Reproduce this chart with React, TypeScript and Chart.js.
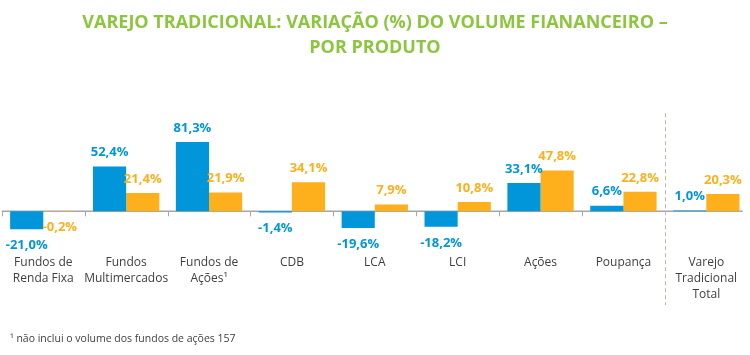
import React, { useEffect, useRef } from "react";
import { Chart, registerables } from "chart.js";

Chart.register(...registerables);

const categories: string[][] = [
  ["Fundos de", "Renda Fixa"],
  ["Fundos", "Multimercados"],
  ["Fundos de", "Ações¹"],
  ["CDB"],
  ["LCA"],
  ["LCI"],
  ["Ações"],
  ["Poupança"],
  ["Varejo", "Tradicional", "Total"],
];
const seriesBlue: number[] = [-21.0, 52.4, 81.3, -1.4, -19.6, -18.2, 33.1, 6.6, 1.0];
const seriesOrange: number[] = [-0.2, 21.4, 21.9, 34.1, 7.9, 10.8, 47.8, 22.8, 20.3];
const titleLines: string[] = [
  "VAREJO TRADICIONAL: VARIAÇÃO (%) DO VOLUME FIANANCEIRO –",
  "POR PRODUTO",
];
const footnote = "¹ não inclui o volume dos fundos de ações 157";

const BLUE = "#0096D9";
const ORANGE = "#FDB01B";
const FONT = "'Open Sans', sans-serif";

const fmt = (v: number) => v.toFixed(1).replace(".", ",") + "%";

const overlay = {
  id: "overlay",
  beforeDatasetsDraw(chart: any) {
    const ctx = chart.ctx;
    const xs = chart.scales.x;
    const ys = chart.scales.y;
    const y0 = ys.getPixelForValue(0);
    const step = xs.getPixelForValue(1) - xs.getPixelForValue(0);
    ctx.save();
    ctx.strokeStyle = "#A6A6A6";
    ctx.lineWidth = 1.5;
    ctx.beginPath();
    ctx.moveTo(chart.chartArea.left, y0);
    ctx.lineTo(chart.chartArea.right - 5, y0);
    ctx.stroke();
    ctx.lineWidth = 1;
    for (let i = 0; i < categories.length - 1; i++) {
      const bx = Math.round(xs.getPixelForValue(i) - step / 2) + 0.5;
      ctx.beginPath();
      ctx.moveTo(bx, y0);
      ctx.lineTo(bx, y0 + 5);
      ctx.stroke();
    }
    // dashed separator before last category
    const sx = Math.round(xs.getPixelForValue(categories.length - 1) - step / 2) + 0.5;
    ctx.strokeStyle = "#BDBBA3";
    ctx.setLineDash([4, 3]);
    ctx.beginPath();
    ctx.moveTo(sx, ys.getPixelForValue(115));
    ctx.lineTo(sx, ys.getPixelForValue(-110));
    ctx.stroke();
    ctx.restore();
  },
  afterDatasetsDraw(chart: any) {
    const ctx = chart.ctx;
    ctx.save();
    ctx.font = `bold 13px ${FONT}`;
    ctx.textAlign = "center";
    ctx.textBaseline = "middle";
    chart.data.datasets.forEach((ds: any, di: number) => {
      const meta = chart.getDatasetMeta(di);
      ctx.fillStyle = ds.backgroundColor;
      meta.data.forEach((el: any, j: number) => {
        const v = ds.data[j];
        const y = v >= 0 ? el.y - 14 : el.y + 16;
        ctx.fillText(fmt(v), el.x, y);
      });
    });
    ctx.restore();
  },
};

export default function App() {
  const ref = useRef<HTMLCanvasElement>(null);
  useEffect(() => {
    if (!ref.current) return;
    const chart = new Chart(ref.current, {
      type: "bar",
      data: {
        labels: categories,
        datasets: [
          { data: seriesBlue, backgroundColor: BLUE, borderWidth: 0 },
          { data: seriesOrange, backgroundColor: ORANGE, borderWidth: 0 },
        ],
      },
      options: {
        responsive: false,
        animation: false,
        devicePixelRatio: 1,
        layout: { padding: { left: 0, right: 0, top: 0, bottom: 39 } },
        datasets: { bar: { categoryPercentage: 0.8, barPercentage: 1 } },
        scales: {
          x: {
            grid: { display: false, drawTicks: false },
            border: { display: false },
            ticks: {
              padding: 13,
              color: "#404040",
              font: { family: FONT, size: 12, lineHeight: "16px" as any },
              maxRotation: 0,
              autoSkip: false,
            },
          },
          y: {
            display: false,
            min: -36,
            max: 100,
          },
        },
        plugins: {
          legend: { display: false },
          tooltip: { enabled: false },
          title: {
            display: true,
            text: titleLines,
            color: "#8CC63F",
            font: { family: FONT, size: 18, weight: "bold", lineHeight: "25px" as any },
            padding: { top: 10, bottom: 66 },
          },
        },
      },
      plugins: [overlay],
    });
    return () => chart.destroy();
  }, []);
  return (
    <div style={{ position: "fixed", left: 0, top: 0, width: 750, height: 355, background: "#fff" }}>
      <canvas ref={ref} width={750} height={355} style={{ display: "block" }} />
      <div
        style={{
          position: "absolute",
          left: 10,
          top: 331,
          fontFamily: FONT,
          fontSize: 10.5,
          color: "#404040",
          lineHeight: "14px",
          whiteSpace: "nowrap",
        }}
      >
        {footnote}
      </div>
    </div>
  );
}
